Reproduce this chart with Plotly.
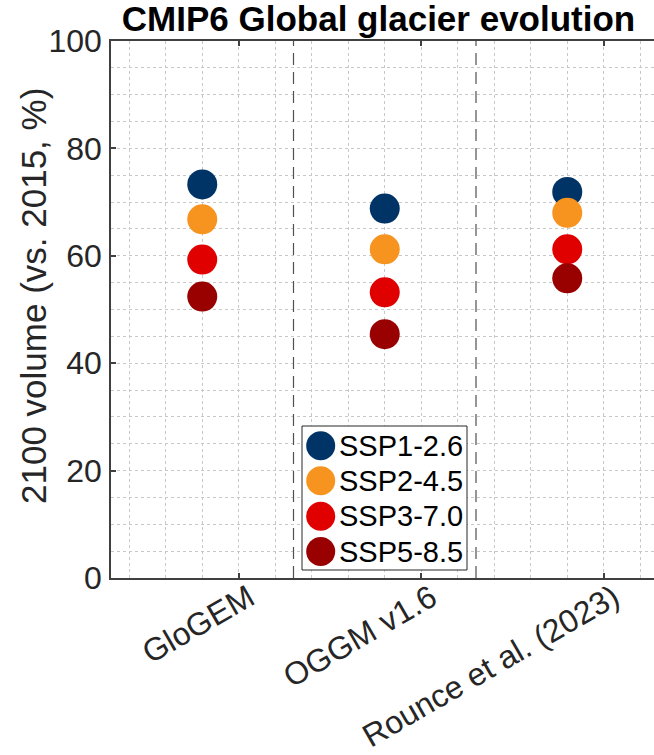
import plotly.graph_objects as go

# ---------------- data ----------------
models = ["GloGEM", "OGGM v1.6", "Rounce et al. (2023)"]
model_pos = [1, 2, 3]
scenarios = ["SSP1-2.6", "SSP2-4.5", "SSP3-7.0", "SSP5-8.5"]
colors = ["rgb(0,52,102)", "rgb(247,148,32)", "rgb(225,0,0)", "rgb(153,0,0)"]
vol_ssp126 = [73.3, 68.8, 71.9]
vol_ssp245 = [66.8, 61.2, 68.0]
vol_ssp370 = [59.3, 53.2, 61.2]
vol_ssp585 = [52.4, 45.4, 55.8]
values = [vol_ssp126, vol_ssp245, vol_ssp370, vol_ssp585]
separators = [1.3, 2.3]
y_ticks = [0, 20, 40, 60, 80, 100]

# ---------------- layout geometry ----------------
W, H = 654, 755
L, R, T, B = 111, 0, 41, 177
PW = W - L - R
PH = H - T - B
FONT = "Liberation Sans, Arial, sans-serif"
AX = "rgb(64,64,64)"
GRID = "rgb(200,200,200)"
offset = -0.2


def px_x(p):
    return (p - L) / PW


def px_y(p):
    return (H - B - p) / PH


fig = go.Figure()
for name, col, vals in zip(scenarios, colors, values):
    fig.add_trace(go.Scatter(
        x=[m + offset for m in model_pos], y=vals, mode="markers", name=name,
        marker=dict(size=30, color=col, line=dict(width=0)),
        showlegend=False, cliponaxis=False,
    ))

shapes = []
for s in separators:
    shapes.append(dict(type="line", xref="x", yref="paper", x0=s, x1=s, y0=0, y1=1,
                       line=dict(color="rgb(80,80,80)", width=1.2, dash="12px,7px"),
                       layer="above"))

# custom legend (large markers)
shapes.append(dict(type="rect", xref="paper", yref="paper",
                   x0=px_x(302), x1=px_x(467), y0=px_y(570), y1=px_y(426),
                   fillcolor="white", line=dict(color="rgb(38,38,38)", width=1),
                   layer="above"))
annotations = []
row_y = [445.7, 480.8, 516.2, 551.5]
for name, col, ry in zip(scenarios, colors, row_y):
    shapes.append(dict(type="circle", xref="paper", yref="paper",
                       xsizemode="pixel", ysizemode="pixel",
                       xanchor=px_x(320.7), yanchor=px_y(ry),
                       x0=-14.5, x1=14.5, y0=-14.5, y1=14.5,
                       fillcolor=col, line=dict(width=0), layer="above"))
    annotations.append(dict(xref="paper", yref="paper", x=px_x(337), y=px_y(ry),
                            xanchor="left", yanchor="middle", text=name, showarrow=False,
                            font=dict(family=FONT, size=29, color="black")))

annotations.append(dict(xref="paper", yref="paper", x=px_x(33), y=px_y(296),
                        xanchor="center", yanchor="middle", textangle=-90,
                        text="2100 volume (vs. 2015, %)", showarrow=False,
                        font=dict(family=FONT, size=35, color="rgb(38,38,38)")))

fig.update_layout(
    width=W, height=H,
    margin=dict(l=L, r=R, t=T, b=B, pad=0, autoexpand=False),
    paper_bgcolor="white", plot_bgcolor="white",
    font=dict(family=FONT, size=32, color="rgb(38,38,38)"),
    title=dict(text="CMIP6 Global glacier evolution", x=378.5 / W, xanchor="center",
               xref="container", yref="container", y=1 - 19 / H, yanchor="middle",
               font=dict(family=FONT, size=35, color="black", weight="bold")),
    shapes=shapes, annotations=annotations,
    showlegend=False,
)
fig.update_xaxes(
    automargin=False,
    range=[0.3, 0.3 + PW / 182.5],
    tickmode="array", tickvals=model_pos, ticktext=models, tickangle=-30,
    tickfont=dict(family=FONT, size=32, color="rgb(38,38,38)"),
    ticks="inside", ticklen=5, tickwidth=1.5, tickcolor=AX,
    ticklabelstandoff=-13, ticklabelshift=10,
    showline=True, linecolor=AX, linewidth=1.5, mirror="ticks",
    showgrid=True, gridcolor=GRID, griddash="dot", gridwidth=1,
    minor=dict(dtick=0.2, tick0=0, showgrid=True, gridcolor=GRID, griddash="dot", gridwidth=1),
    zeroline=False,
)
fig.update_yaxes(
    automargin=False,
    range=[0, 100], tickmode="array", tickvals=y_ticks,
    tickfont=dict(family=FONT, size=32, color="rgb(38,38,38)"),
    ticks="inside", ticklen=5, tickwidth=1.5, tickcolor=AX, ticklabelstandoff=1,
    showline=True, linecolor=AX, linewidth=1.5, mirror=False,
    showgrid=True, gridcolor=GRID, griddash="dot", gridwidth=1,
    minor=dict(dtick=5, tick0=0, showgrid=True, gridcolor=GRID, griddash="dot", gridwidth=1),
    zeroline=False,
)
fig.write_html("out.html")
